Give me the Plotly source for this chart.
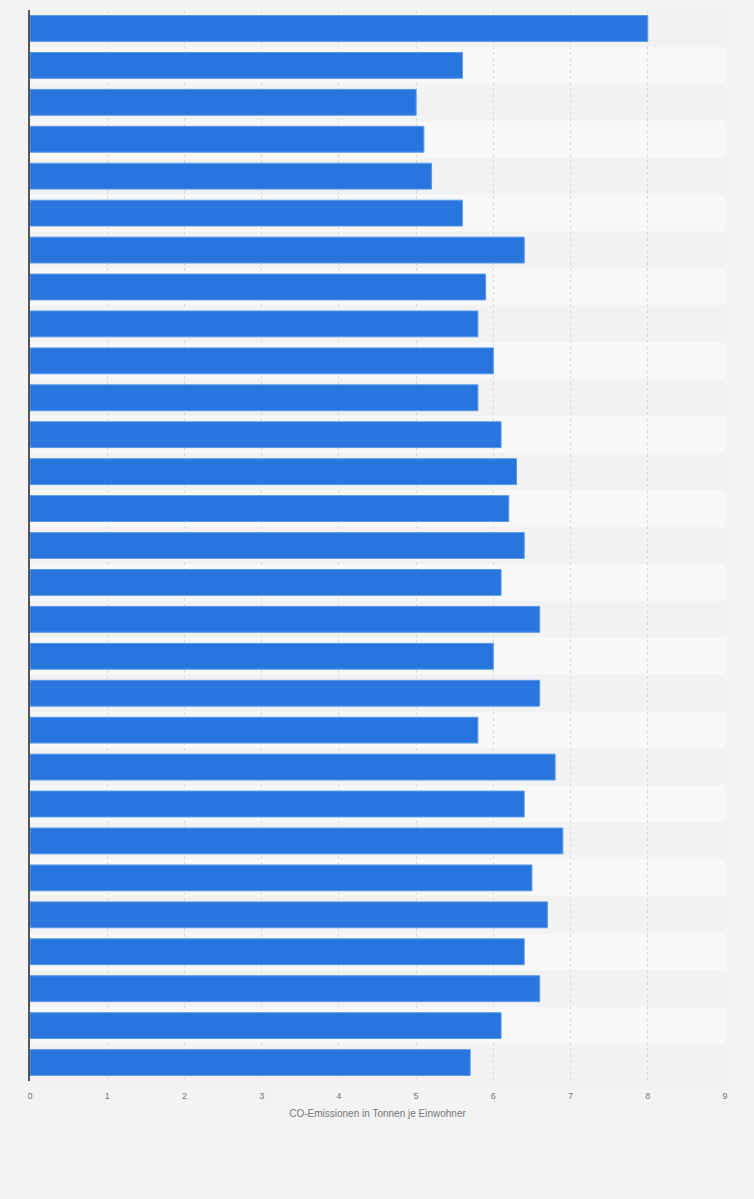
import plotly.graph_objects as go

# Werte je Balken (von oben nach unten), Kategorienamen sind im Original ausgeblendet
categories = [f"Kategorie {i}" for i in range(1, 30)]
values = [8.0, 5.6, 5.0, 5.1, 5.2, 5.6, 6.4, 5.9, 5.8, 6.0,
          5.8, 6.1, 6.3, 6.2, 6.4, 6.1, 6.6, 6.0, 6.6, 5.8,
          6.8, 6.4, 6.9, 6.5, 6.7, 6.4, 6.6, 6.1, 5.7]
x_ticks = list(range(0, 10))
x_title = "CO-Emissionen in Tonnen je Einwohner"

fig = go.Figure()

fig.add_trace(go.Bar(
    x=values,
    y=categories,
    orientation="h",
    width=0.7,
    marker=dict(color="#2876dd", line=dict(color="#5a98ea", width=1)),
    hoverinfo="x",
))

# abwechselnde Zeilenstreifen hinter den Balken
for i in range(len(categories)):
    fig.add_shape(
        type="rect", xref="paper", yref="y",
        x0=0, x1=1, y0=i - 0.5, y1=i + 0.5,
        fillcolor="#f2f2f2" if i % 2 == 0 else "#f8f8f8",
        line_width=0, layer="below",
    )

fig.update_layout(
    width=754, height=1199,
    paper_bgcolor="#f3f3f3",
    plot_bgcolor="#f3f3f3",
    margin=dict(l=30, r=29, t=10, b=118),
    showlegend=False,
    bargap=0.3,
    font=dict(family="Liberation Sans, Arial, sans-serif", color="#777777"),
    xaxis=dict(
        range=[0, 9],
        tickvals=x_ticks,
        ticktext=[str(t) for t in x_ticks],
        tickfont=dict(size=9, color="#777777"),
        ticklabelstandoff=8,
        showgrid=True, gridcolor="#d9d9d9", griddash="dot", gridwidth=1,
        zeroline=False,
        ticks="", ticklen=0,
        title=dict(text=x_title, font=dict(size=10, color="#777777"), standoff=9),
    ),
    yaxis=dict(
        autorange=False,
        range=[len(categories) - 0.5, -0.5],
        showticklabels=False,
        showgrid=False,
        zeroline=False,
        showline=True, linecolor="#555555", linewidth=1.5,
        ticks="",
    ),
)

# Browser-Standardrand entfernen, damit die Grafik bündig sitzt
fig.write_html(
    "out.html",
    config={"displayModeBar": False},
    post_script="document.body.style.margin='0';",
)
